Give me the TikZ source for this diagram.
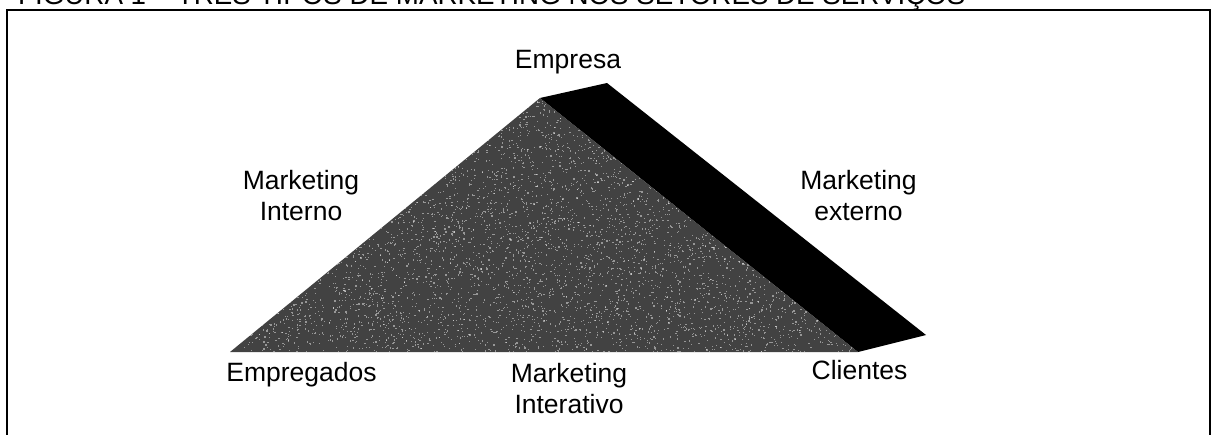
\documentclass[tikz,border=0pt]{standalone}
\usepackage{fontspec}
\setmainfont{Liberation Sans}
\begin{document}
\begin{tikzpicture}[x=1pt,y=-1pt,
  lbl/.style={font=\fontsize{26.5}{31}\selectfont, inner sep=0pt, align=center},
  frame/.style={draw=black, line width=2pt},
  marketing/.style={fill=black!74},
  grain/.style={fill=white, fill opacity=0.45},
  outer/.style={fill=black}]
\useasboundingbox (0,0) rectangle (1213,434);
\clip (0,0) rectangle (1213,434);
\fill[white] (0,0) rectangle (1213,434);

% caption, only its lower edge shows above the frame
\node[anchor=base west, inner sep=0pt] (title) at (18,4.5)
  {\resizebox{947pt}{!}{FIGURA 1 – TRÊS TIPOS DE MARKETING NOS SETORES DE SERVIÇOS}};

% frame, open at the bottom
\coordinate (fbl) at (7,440);
\coordinate (ftl) at (7,10);
\coordinate (ftr) at (1210,10);
\coordinate (fbr) at (1210,440);
\draw[frame] (fbl) -- (ftl) -- (ftr) -- (fbr);

% triangle corners
\coordinate (apex) at (540,98);
\coordinate (emp) at (230,352);
\coordinate (cli) at (858,352);
% dark strip along the right side
\coordinate (stripTop) at (607,83);
\coordinate (stripBot) at (926,335);

\fill[outer] (apex) -- (stripTop) -- (stripBot) -- (cli) -- cycle;
\fill[marketing] (emp) -- (apex) -- (cli) -- cycle;

% halftone grain inside the triangle
\begin{scope}
  \clip (emp) -- (apex) -- (cli) -- cycle;
  \pgfmathsetseed{4217}
  \foreach \i in {1,...,7000}{
    \pgfmathsetmacro{\gx}{230+628*rnd}
    \pgfmathsetmacro{\gy}{98+254*rnd}
    \fill[grain] (\gx,\gy) rectangle ++(1.2,1.2);
  }
\end{scope}

% labels
\node[lbl, anchor=north] (empresa) at (568,50) {Empresa};
\node[lbl, anchor=north] (mint) at (301,170) {Marketing\\Interno};
\node[lbl, anchor=north] (mext) at (858.5,170) {Marketing\\externo};
\node[lbl, anchor=base] (empregados) at (301.5,381) {Empregados};
\node[lbl, anchor=base] (clientes) at (859.5,379) {Clientes};
\node[lbl, anchor=north] (minter) at (569,363) {Marketing\\Interativo};
\end{tikzpicture}
\end{document}
